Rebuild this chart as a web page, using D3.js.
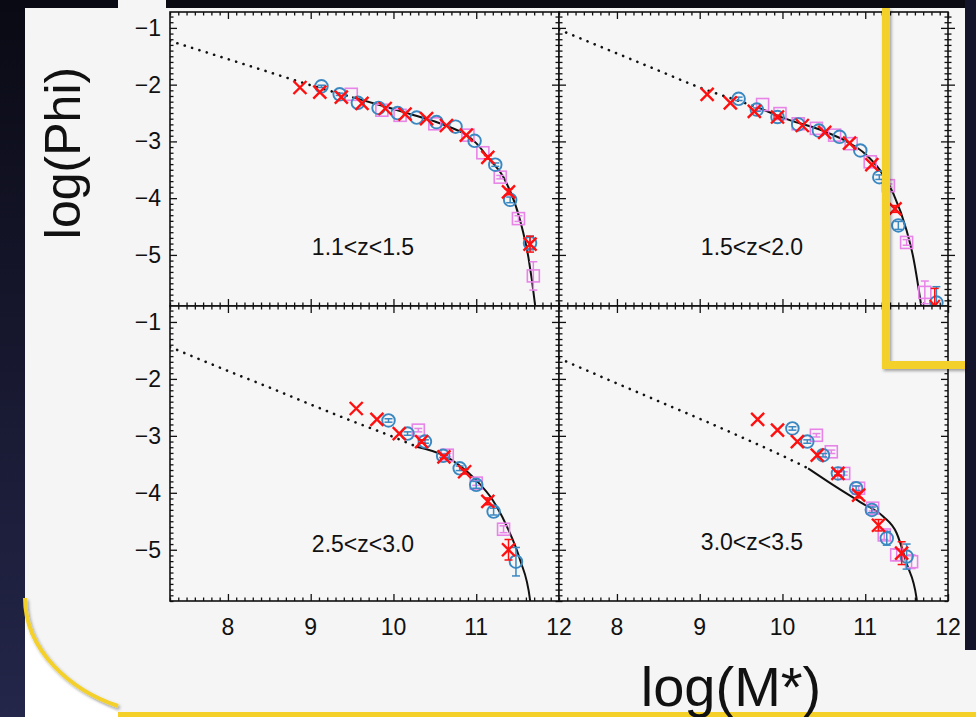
<!DOCTYPE html>
<html><head><meta charset="utf-8">
<script src="https://cdn.jsdelivr.net/npm/d3@7"></script>
<style>html,body{margin:0;padding:0;background:#10111f;overflow:hidden} svg{display:block;font-family:"Liberation Sans",Arial,Helvetica,sans-serif;}</style>
</head><body><svg id="c" width="976" height="717"></svg>
<script>
// ---------------- data ----------------
const xDomain = [7.3, 12];
const yDomain = [-5.9, -0.72];
const xTicks = [8, 9, 10, 11, 12];
const yTicks = [-1, -2, -3, -4, -5];
const zLabels = ["1.1<z<1.5", "1.5<z<2.0", "2.5<z<3.0", "3.0<z<3.5"];
const xTitle = "log(M*)";
const yTitle = "log(Phi)";

// [logM, logPhi, error, upperLimit]
const cross_z1 = [[8.87,-2.05,0],[9.11,-2.13,0],[9.37,-2.22,0],[9.62,-2.33,0],[9.90,-2.42,0],[10.14,-2.52,0],[10.40,-2.60,0],[10.64,-2.72,0],[10.88,-2.89,0],[11.14,-3.28,0.03],[11.39,-3.89,0.05],[11.65,-4.81,0.14]];
const circle_z1 = [[9.13,-2.03,0.02],[9.35,-2.17,0.02],[9.57,-2.32,0],[9.82,-2.41,0],[10.05,-2.50,0],[10.28,-2.58,0],[10.52,-2.66,0],[10.75,-2.74,0],[10.98,-2.99,0],[11.23,-3.41,0.03],[11.41,-4.03,0.05],[11.65,-4.79,0.12]];
const square_z1 = [[9.49,-2.17,0],[9.86,-2.45,0],[10.08,-2.54,0],[10.50,-2.69,0],[10.90,-2.89,0],[11.08,-3.20,0],[11.29,-3.63,0.03],[11.51,-4.36,0.05],[11.69,-5.37,0.25]];
const fit_z1 = [[7.3,-1.23],[8.0,-1.55],[8.5,-1.78],[9.0,-2.01],[9.5,-2.22],[10.0,-2.43],[10.25,-2.54],[10.5,-2.65],[10.7,-2.76],[10.85,-2.86],[11.0,-3.03],[11.15,-3.30],[11.33,-3.63],[11.53,-4.39],[11.63,-5.04],[11.71,-5.87],[11.72,-6.0]];

const cross_z2 = [[9.09,-2.17,0],[9.37,-2.32,0],[9.66,-2.47,0],[9.94,-2.57,0.02],[10.24,-2.72,0],[10.51,-2.84,0],[10.81,-3.03,0],[11.08,-3.41,0],[11.36,-4.19,0.06],[11.84,-5.81,0.22,1]];
const circle_z2 = [[9.47,-2.25,0.03],[9.69,-2.44,0.03],[9.94,-2.57,0.03],[10.19,-2.70,0],[10.44,-2.81,0],[10.69,-2.92,0],[10.94,-3.16,0],[11.17,-3.63,0.04],[11.40,-4.48,0.07],[11.86,-5.84,0.28]];
const square_z2 = [[9.76,-2.35,0],[9.97,-2.51,0],[10.19,-2.69,0],[10.41,-2.77,0],[10.63,-2.89,0],[10.83,-3.04,0],[11.06,-3.36,0],[11.28,-3.78,0.03],[11.50,-4.78,0.05],[11.72,-5.66,0.2]];
const fit_z2 = [[7.3,-1.03],[8.0,-1.45],[8.5,-1.75],[9.0,-2.05],[9.5,-2.30],[9.7,-2.40],[10.0,-2.58],[10.5,-2.82],[10.8,-3.02],[11.0,-3.22],[11.18,-3.51],[11.34,-3.92],[11.5,-4.57],[11.58,-5.04],[11.68,-5.93]];

const cross_z3 = [[9.55,-2.52,0],[9.80,-2.71,0],[10.07,-2.96,0],[10.34,-3.10,0.03],[10.61,-3.37,0.03],[10.86,-3.63,0.04],[11.14,-4.15,0.06],[11.39,-5.00,0.18]];
const circle_z3 = [[9.94,-2.73,0.03],[10.17,-2.96,0.03],[10.38,-3.10,0.03],[10.60,-3.35,0.03],[10.80,-3.57,0.04],[11.00,-3.86,0.06],[11.21,-4.33,0.06],[11.48,-5.21,0.25]];
const square_z3 = [[10.30,-2.90,0.03],[10.65,-3.34,0.03],[11.00,-3.83,0.04],[11.33,-4.64,0.06]];
const fit_z3 = [[7.3,-1.44],[8.0,-1.86],[8.5,-2.15],[9.0,-2.45],[9.5,-2.74],[10.0,-3.02],[10.28,-3.19],[10.6,-3.34],[10.8,-3.52],[11.0,-3.78],[11.2,-4.13],[11.37,-4.59],[11.53,-5.18],[11.65,-5.88],[11.66,-6.0]];

const cross_z4 = [[9.70,-2.71,0],[9.94,-2.90,0],[10.18,-3.10,0],[10.42,-3.34,0],[10.67,-3.66,0.04],[10.92,-4.04,0.05],[11.16,-4.57,0.1],[11.44,-5.06,0.2]];
const circle_z4 = [[10.12,-2.87,0.03],[10.30,-3.10,0.03],[10.49,-3.34,0.03],[10.67,-3.66,0.03],[10.89,-3.92,0.04],[11.08,-4.30,0.05],[11.26,-4.80,0.12],[11.50,-5.12,0.22]];
const square_z4 = [[10.41,-2.99,0.03],[10.59,-3.28,0.03],[10.74,-3.66,0.03],[10.92,-3.92,0.04],[11.09,-4.27,0.05],[11.23,-4.74,0.08],[11.38,-5.09,0.1],[11.56,-5.21,0.12]];
const fit_z4 = [[7.3,-1.64],[8.0,-2.08],[8.5,-2.39],[9.0,-2.70],[9.5,-3.02],[10.0,-3.35],[10.31,-3.57],[10.61,-3.86],[10.96,-4.18],[11.22,-4.42],[11.38,-4.71],[11.5,-5.24],[11.62,-5.85],[11.63,-6.0]];

// mass completeness limit: fit drawn dotted below, solid above
const solidFrom = [9.5, 9.7, 10.28, 10.31];

const crosses = [cross_z1, cross_z2, cross_z3, cross_z4];
const circles = [circle_z1, circle_z2, circle_z3, circle_z4];
const squares = [square_z1, square_z2, square_z3, square_z4];
const fits = [fit_z1, fit_z2, fit_z3, fit_z4];

// ---------------- layout / style ----------------
const W = 976, H = 717;
const YELLOW = "#f4d029";
const RED = "#ff1010", BLUE = "#3a88c2", PINK = "#e884e8";
const layout = [
  {x0:170, x1:559, y0:12,  y1:306, left:true,  bottom:false, outRight:true},
  {x0:559, x1:948, y0:12,  y1:306, left:false, bottom:false, outRight:true},
  {x0:170, x1:559, y0:306, y1:601, left:true,  bottom:true,  outRight:false},
  {x0:559, x1:948, y0:306, y1:601, left:false, bottom:true,  outRight:false}
];
const labelPos = [[363,255],[752,255],[363,552],[752,550]];

const svg = d3.select("#c");
const defs = svg.append("defs");
const bg = defs.append("linearGradient").attr("id","bg").attr("x1",0).attr("y1",0).attr("x2",0).attr("y2",1);
bg.append("stop").attr("offset",0).attr("stop-color","#0a0a14");
bg.append("stop").attr("offset",1).attr("stop-color","#24264a");
const sh = defs.append("filter").attr("id","sh").attr("x","-10%").attr("y","-10%").attr("width","130%").attr("height","130%");
sh.append("feDropShadow").attr("dx",1.5).attr("dy",2).attr("stdDeviation",1.5).attr("flood-color","#000").attr("flood-opacity",0.35);

// slide background
svg.append("rect").attr("width",W).attr("height",H).attr("fill","url(#bg)");
// white area below the rounded corner
svg.append("rect").attr("x",25).attr("y",560).attr("width",W-25).attr("height",H-560).attr("fill","#ffffff");
// light panel
svg.append("path")
  .attr("d",`M25,8 H965 V650 H976 V712 H118 C70,690 25,650 25,600 Z`)
  .attr("fill","#f5f5f5");
svg.append("rect").attr("x",118).attr("y",0).attr("width",48).attr("height",10).attr("fill","#f5f5f5");
// yellow curve + bottom line
svg.append("path").attr("d","M25,598 C25,650 70,690 118,706").attr("fill","none")
  .attr("stroke",YELLOW).attr("stroke-width",4).attr("filter","url(#sh)");
svg.append("line").attr("x1",118).attr("x2",W).attr("y1",714.5).attr("y2",714.5)
  .attr("stroke",YELLOW).attr("stroke-width",5);

// ---------------- panels ----------------
const minorX = d3.range(73,121).filter(d=>d%10!==0).map(d=>d/10);
const minorY = d3.range(-59,-7).filter(d=>d%10!==0).map(d=>d/10);

layout.forEach((p,i)=>{
  const x = d3.scaleLinear().domain(xDomain).range([p.x0,p.x1]);
  const y = d3.scaleLinear().domain(yDomain).range([p.y1,p.y0]);
  const g = svg.append("g");
  g.append("rect").attr("x",p.x0).attr("y",p.y0).attr("width",p.x1-p.x0).attr("height",p.y1-p.y0).attr("fill","#f6f6f6");

  const axes = [
    [d3.axisBottom(x), `translate(0,${p.y1})`, xTicks, minorX, -1],
    [d3.axisTop(x), `translate(0,${p.y0})`, xTicks, minorX, -1],
    [d3.axisLeft(y), `translate(${p.x0},0)`, yTicks, minorY, -1],
    [d3.axisRight(y), `translate(${p.x1},0)`, yTicks, minorY, -1]
  ];
  if (p.outRight) axes.push([d3.axisRight(y), `translate(${p.x1},0)`, yTicks, minorY, 1]);
  axes.forEach(([ax,tr,maj,min,dir])=>{
    [[maj,7],[min,3.5]].forEach(([vals,len])=>{
      g.append("g").attr("transform",tr)
        .call(ax.tickValues(vals).tickSize(dir*len).tickSizeOuter(0).tickFormat(""))
        .call(s=>s.select(".domain").remove())
        .call(s=>s.selectAll("line").attr("stroke","#111").attr("stroke-width",1.3));
    });
  });
  g.append("rect").attr("x",p.x0).attr("y",p.y0).attr("width",p.x1-p.x0).attr("height",p.y1-p.y0)
    .attr("fill","none").attr("stroke","#111").attr("stroke-width",1.6);

  if (p.bottom) {
    g.selectAll(".xl").data(xTicks).join("text")
      .attr("x",d=>x(d)).attr("y",635).attr("text-anchor","middle")
      .attr("font-size",23).attr("fill","#111").text(d=>d);
  }
  if (p.left) {
    g.selectAll(".yl").data(yTicks).join("text")
      .attr("x",161).attr("y",d=>y(d)+8).attr("text-anchor","end")
      .attr("font-size",23).attr("fill","#111").text(d=>"\u2212"+Math.abs(d));
  }

  // fit curve
  const clipId = "clip"+i;
  defs.append("clipPath").attr("id",clipId).append("rect")
    .attr("x",p.x0).attr("y",p.y0).attr("width",p.x1-p.x0).attr("height",p.y1-p.y0);
  const line = d3.line().x(d=>x(d[0])).y(d=>y(d[1])).curve(d3.curveMonotoneX);
  const lim = solidFrom[i];
  const fg = g.append("g").attr("clip-path",`url(#${clipId})`);
  fg.append("path").attr("d",line(fits[i].filter(d=>d[0]<=lim))).attr("fill","none")
    .attr("stroke","#111").attr("stroke-width",2.6).attr("stroke-linecap","round").attr("stroke-dasharray","0.1 7.6");
  fg.append("path").attr("d",line(fits[i].filter(d=>d[0]>=lim))).attr("fill","none")
    .attr("stroke","#111").attr("stroke-width",2);

  // error bars helper
  const errBars = (data,color)=>{
    const eb = g.append("g").attr("stroke",color).attr("stroke-width",1.5).attr("fill","none");
    data.filter(d=>d[2]>0).forEach(d=>{
      const cx = x(d[0]), ya = y(d[1]+d[2]), yb = y(d[1]-d[2]);
      if (d[3]) {
        eb.append("line").attr("x1",cx).attr("x2",cx).attr("y1",ya).attr("y2",y(d[1])+4);
        eb.append("line").attr("x1",cx-4).attr("x2",cx+4).attr("y1",ya).attr("y2",ya);
        eb.append("path").attr("d",`M${cx-5},${y(d[1])-1} L${cx},${y(d[1])+5} L${cx+5},${y(d[1])-1}`).attr("stroke-width",2);
      } else {
        eb.append("line").attr("x1",cx).attr("x2",cx).attr("y1",ya).attr("y2",yb);
        eb.append("line").attr("x1",cx-4).attr("x2",cx+4).attr("y1",ya).attr("y2",ya);
        eb.append("line").attr("x1",cx-4).attr("x2",cx+4).attr("y1",yb).attr("y2",yb);
      }
    });
  };

  // squares
  errBars(squares[i],PINK);
  g.append("g").selectAll("rect").data(squares[i]).join("rect")
    .attr("x",d=>x(d[0])-6).attr("y",d=>y(d[1])-6).attr("width",12).attr("height",12)
    .attr("fill","none").attr("stroke",PINK).attr("stroke-width",1.6);
  // circles
  errBars(circles[i],BLUE);
  g.append("g").selectAll("circle").data(circles[i]).join("circle")
    .attr("cx",d=>x(d[0])).attr("cy",d=>y(d[1])).attr("r",6.3)
    .attr("fill","none").attr("stroke",BLUE).attr("stroke-width",1.9);
  // crosses
  errBars(crosses[i],RED);
  g.append("g").selectAll("path").data(crosses[i].filter(d=>!d[3])).join("path")
    .attr("d",d=>{const cx=x(d[0]),cy=y(d[1]),s=6.5;return `M${cx-s},${cy-s}L${cx+s},${cy+s}M${cx-s},${cy+s}L${cx+s},${cy-s}`;})
    .attr("fill","none").attr("stroke",RED).attr("stroke-width",2.4);

  g.append("text").attr("x",labelPos[i][0]).attr("y",labelPos[i][1]).attr("text-anchor","middle")
    .attr("font-size",23).attr("fill","#111").text(zLabels[i]);
});

// axis titles
svg.append("text").attr("transform","translate(80,153) rotate(-90)").attr("text-anchor","middle")
  .attr("font-size",50).attr("fill","#111").text(yTitle);
svg.append("text").attr("x",731).attr("y",706).attr("text-anchor","middle")
  .attr("font-size",56).attr("fill","#111").text(xTitle);

// dark strips (slide background showing through)
svg.append("rect").attr("x",965).attr("y",0).attr("width",11).attr("height",650).attr("fill","#14152a");
svg.append("rect").attr("x",166).attr("y",0).attr("width",799).attr("height",8).attr("fill","#0b0b14");

// yellow highlight box
svg.append("path").attr("d","M886,8 V365 H965").attr("fill","none")
  .attr("stroke",YELLOW).attr("stroke-width",8).attr("filter","url(#sh)");
</script>
</body></html>
